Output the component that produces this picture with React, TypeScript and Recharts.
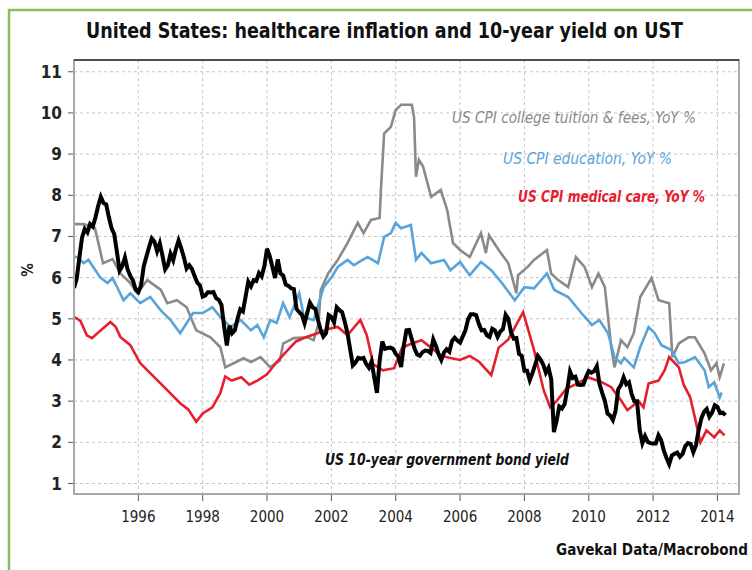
import React from "react";
import { CartesianGrid, Line, LineChart, XAxis, YAxis } from "recharts";

// shared fonts / colours
const FONT = "'Liberation Sans Narrow', 'DejaVu Sans Condensed', 'Open Sans', 'Liberation Sans', sans-serif";
const GREY = "#8a8a8a";
const BLUE = "#58a4da";
const RED = "#e5202e";
const BLACK = "#000000";

const xTicks = [1996, 1998, 2000, 2002, 2004, 2006, 2008, 2010, 2012, 2014];
const yTicks = [1, 2, 3, 4, 5, 6, 7, 8, 9, 10, 11];

// US CPI college tuition & fees, YoY %
const tuitionYears = [
  1994.0, 1994.3, 1994.5, 1994.65, 1994.8, 1994.9, 1995.2, 1995.44, 1995.75, 1995.97,
  1996.28, 1996.7, 1996.9, 1997.2, 1997.5, 1997.8, 1998.24, 1998.55, 1998.7, 1998.96,
  1999.27, 1999.5, 1999.8, 2000.1, 2000.4, 2000.5, 2000.83, 2001.26, 2001.45, 2001.6,
  2001.67, 2001.9, 2002.2, 2002.5, 2002.82, 2003.0, 2003.23, 2003.5, 2003.54, 2003.64,
  2003.85, 2004.0, 2004.17, 2004.5, 2004.57, 2004.63, 2004.72, 2004.85, 2005.1, 2005.4,
  2005.6, 2005.78, 2006.0, 2006.3, 2006.65, 2006.8, 2006.9, 2007.2, 2007.5, 2007.75,
  2007.8, 2008.1, 2008.3, 2008.7, 2008.83, 2009.05, 2009.36, 2009.6, 2009.87, 2010.1,
  2010.3, 2010.5, 2010.7, 2010.8, 2011.0, 2011.2, 2011.4, 2011.6, 2011.95, 2012.17,
  2012.5, 2012.6, 2012.8, 2013.1, 2013.3, 2013.6, 2013.8, 2013.97, 2014.07, 2014.2,
];
const tuitionValues = [
  7.3, 7.3, 7.25, 7.2, 6.7, 6.35, 6.45, 6.1, 5.87, 5.62,
  5.94, 5.7, 5.38, 5.45, 5.28, 4.72, 4.55, 4.31, 3.82, 3.92,
  4.04, 3.95, 4.07, 3.82, 3.99, 4.4, 4.53, 4.55, 4.48, 4.89,
  5.7, 6.1, 6.43, 6.84, 7.33, 7.08, 7.4, 7.45, 8.13, 9.5,
  9.66, 10.07, 10.2, 10.2, 9.9, 8.45, 8.86, 8.7, 7.96, 8.13,
  7.64, 6.84, 6.67, 6.5, 7.08, 6.6, 7.03, 6.67, 6.35, 5.62,
  6.06, 6.26, 6.43, 6.67, 6.1, 5.94, 5.77, 6.5, 6.26, 5.77,
  6.1, 5.77, 4.31, 3.82, 4.48, 4.31, 4.65, 5.53, 5.99, 5.45,
  5.38, 4.07, 4.4, 4.55, 4.55, 4.16, 3.75, 3.92, 3.58, 3.92,
];

// US CPI education, YoY %
const educationYears = [
  1994.0, 1994.1, 1994.3, 1994.45, 1994.82, 1995.04, 1995.2, 1995.54, 1995.75, 1996.06,
  1996.37, 1996.69, 1997.0, 1997.3, 1997.5, 1997.7, 1998.0, 1998.3, 1998.55, 1998.87,
  1999.18, 1999.5, 1999.7, 1999.9, 2000.1, 2000.3, 2000.5, 2000.7, 2001.0, 2001.15,
  2001.45, 2001.76, 2002.0, 2002.2, 2002.5, 2002.7, 2002.9, 2003.13, 2003.45, 2003.64,
  2003.85, 2004.0, 2004.16, 2004.47, 2004.63, 2004.8, 2005.1, 2005.5, 2005.7, 2006.0,
  2006.3, 2006.65, 2006.97, 2007.3, 2007.7, 2008.0, 2008.3, 2008.7, 2008.93, 2009.36,
  2009.77, 2010.1, 2010.33, 2010.6, 2010.8, 2011.0, 2011.1, 2011.4, 2011.6, 2011.86,
  2012.05, 2012.26, 2012.57, 2012.8, 2013.0, 2013.3, 2013.6, 2013.73, 2013.9, 2014.07,
  2014.13,
];
const educationValues = [
  6.5, 6.5, 6.35, 6.43, 6.0, 5.87, 5.99, 5.45, 5.62, 5.38,
  5.53, 5.21, 4.97, 4.65, 4.89, 5.14, 5.14, 5.28, 5.04, 4.8,
  4.97, 4.72, 4.85, 4.55, 4.97, 4.9, 5.38, 5.04, 5.62, 5.04,
  4.97, 5.77, 6.0, 6.26, 6.43, 6.3, 6.4, 6.5, 6.35, 6.99,
  7.08, 7.33, 7.2, 7.28, 6.43, 6.6, 6.35, 6.43, 6.18, 6.38,
  6.06, 6.38, 6.18, 5.87, 5.45, 5.77, 5.74, 6.1, 5.7, 5.53,
  5.14, 4.85, 4.97, 4.65, 4.07, 3.92, 4.05, 3.82, 4.31, 4.8,
  4.65, 4.36, 4.24, 3.92, 3.95, 4.07, 3.75, 3.34, 3.46, 3.09,
  3.21,
];

// US CPI medical care, YoY %
const medicalYears = [
  1994.0, 1994.2, 1994.4, 1994.56, 1994.8, 1995.13, 1995.3, 1995.44, 1995.75, 1996.06,
  1996.37, 1996.69, 1997.0, 1997.3, 1997.55, 1997.8, 1998.0, 1998.3, 1998.55, 1998.7,
  1998.9, 1999.2, 1999.45, 1999.7, 2000.0, 2000.3, 2000.6, 2000.9, 2001.2, 2001.57,
  2001.9, 2002.2, 2002.5, 2002.9, 2003.1, 2003.3, 2003.6, 2003.95, 2004.2, 2004.5,
  2004.8, 2005.1, 2005.4, 2005.7, 2006.0, 2006.3, 2006.6, 2006.97, 2007.2, 2007.5,
  2007.96, 2008.3, 2008.6, 2008.8, 2009.0, 2009.3, 2009.7, 2009.98, 2010.4, 2010.7,
  2011.0, 2011.2, 2011.55, 2011.7, 2011.86, 2012.17, 2012.36, 2012.5, 2012.8, 2012.95,
  2013.15, 2013.3, 2013.47, 2013.66, 2013.9, 2014.07, 2014.22,
];
const medicalValues = [
  5.05, 4.95, 4.6, 4.53, 4.7, 4.92, 4.8, 4.56, 4.36, 3.92,
  3.68, 3.43, 3.19, 2.95, 2.8, 2.5, 2.7, 2.85, 3.2, 3.6,
  3.5, 3.58, 3.4, 3.5, 3.65, 3.95, 4.2, 4.45, 4.55, 4.65,
  4.75, 4.8, 4.6, 4.97, 4.6, 3.9, 3.75, 3.8, 4.3, 4.4,
  4.48, 4.3, 4.1, 4.05, 4.0, 4.1, 3.95, 3.63, 4.3, 4.5,
  5.16, 4.24, 3.26, 2.85, 3.0, 3.3, 3.45, 3.58, 3.46, 3.34,
  3.02, 2.78, 3.0, 2.85, 3.43, 3.5, 3.75, 4.07, 3.82, 3.4,
  3.1, 2.6, 2.0, 2.29, 2.12, 2.29, 2.17,
];

// US 10-year government bond yield, monthly from Jan 1994
const bondStart = 1994;
const bondValues = [
  5.75, 5.97, 6.48, 6.97, 7.18, 7.1, 7.3, 7.24, 7.46, 7.74, 7.96, 7.81,
  7.78, 7.47, 7.2, 7.06, 6.63, 6.17, 6.28, 6.49, 6.2, 6.04, 5.93, 5.71,
  5.65, 5.81, 6.27, 6.51, 6.74, 6.95, 6.87, 6.64, 6.83, 6.53, 6.2, 6.3,
  6.58, 6.42, 6.69, 6.9, 6.71, 6.49, 6.22, 6.3, 6.21, 6.03, 5.88, 5.81,
  5.54, 5.57, 5.65, 5.64, 5.65, 5.5, 5.46, 5.34, 4.81, 4.35, 4.83, 4.65,
  4.72, 5.0, 5.23, 5.18, 5.54, 5.9, 5.79, 5.94, 5.92, 6.11, 6.03, 6.28,
  6.7, 6.52, 6.26, 5.99, 6.44, 6.1, 6.05, 5.83, 5.8, 5.74, 5.72, 5.24,
  5.16, 5.1, 4.89, 5.14, 5.39, 5.28, 5.24, 4.97, 4.73, 4.57, 4.65, 5.09,
  5.04, 4.91, 5.28, 5.21, 5.16, 4.93, 4.65, 4.26, 3.87, 3.94, 4.05, 4.03,
  4.05, 3.9, 3.81, 3.96, 3.57, 3.2, 3.98, 4.45, 4.27, 4.29, 4.3, 4.27,
  4.15, 4.08, 3.83, 4.35, 4.72, 4.73, 4.5, 4.28, 4.13, 4.1, 4.19, 4.23,
  4.22, 4.17, 4.5, 4.34, 4.14, 4.0, 4.18, 4.26, 4.2, 4.46, 4.54, 4.47,
  4.42, 4.57, 4.72, 4.99, 5.11, 5.11, 5.09, 4.88, 4.72, 4.73, 4.6, 4.56,
  4.76, 4.72, 4.56, 4.69, 4.75, 5.1, 5.0, 4.67, 4.52, 4.53, 4.15, 4.1,
  3.74, 3.74, 3.51, 3.68, 3.88, 4.1, 4.01, 3.89, 3.69, 3.81, 3.53, 2.25,
  2.52, 2.87, 2.82, 2.93, 3.29, 3.72, 3.56, 3.59, 3.4, 3.39, 3.4, 3.59,
  3.73, 3.69, 3.73, 3.85, 3.42, 3.2, 3.01, 2.7, 2.65, 2.54, 2.76, 3.29,
  3.39, 3.58, 3.41, 3.46, 3.17, 3.0, 3.0, 2.3, 1.98, 2.15, 2.01, 1.98,
  1.97, 1.97, 2.17, 2.05, 1.8, 1.62, 1.47, 1.68, 1.72, 1.75, 1.65, 1.72,
  1.91, 1.98, 1.96, 1.76, 1.93, 2.3, 2.58, 2.74, 2.81, 2.62, 2.72, 2.9,
  2.86, 2.71, 2.72, 2.66,
];

const pairs = (xs: number[], vs: number[]) => xs.map((x, i) => ({ x, v: vs[i] }));
const tuitionData = pairs(tuitionYears, tuitionValues);
const educationData = pairs(educationYears, educationValues);
const medicalData = pairs(medicalYears, medicalValues);
const bondData = bondValues.map((v, i) => ({ x: bondStart + i / 12, v }));

// plot box in page pixels
const PL = 74;
const PR = 739;
const PT = 60;
const PB = 494;

export default function App() {
  return (
    <div style={{ position: "absolute", left: 0, top: 0, width: 752, height: 570, background: "#fff", overflow: "hidden" }}>
      <div style={{ position: "absolute", left: 0, top: 0 }}>
        <LineChart
          width={752}
          height={570}
          margin={{ top: PT, right: 752 - PR, bottom: 46, left: 0 }}
        >
          <CartesianGrid stroke="#c4c4c4" strokeDasharray="3 3" />
          <XAxis
            dataKey="x"
            type="number"
            domain={[1994.0, 2014.67]}
            allowDataOverflow
            ticks={xTicks}
            height={30}
            tickSize={7}
            tickMargin={10}
            axisLine={false}
            tickLine={{ stroke: "#555" }}
            tick={{ fill: "#222", fontSize: 15, fontFamily: FONT }}
          />
          <YAxis
            type="number"
            domain={[0.745, 11.285]}
            allowDataOverflow
            ticks={yTicks}
            width={PL}
            tickSize={6}
            tickMargin={6}
            axisLine={false}
            tickLine={{ stroke: "#555" }}
            tick={{ fill: "#222", fontSize: 17, fontWeight: 600, fontFamily: FONT }}
          />
          <Line data={tuitionData} dataKey="v" type="linear" stroke={GREY} strokeWidth={2.6} dot={false} isAnimationActive={false} />
          <Line data={educationData} dataKey="v" type="linear" stroke={BLUE} strokeWidth={2.6} dot={false} isAnimationActive={false} />
          <Line data={medicalData} dataKey="v" type="linear" stroke={RED} strokeWidth={2.6} dot={false} isAnimationActive={false} />
          <Line data={bondData} dataKey="v" type="linear" stroke={BLACK} strokeWidth={4} dot={false} isAnimationActive={false} />
        </LineChart>
      </div>
      <svg width={752} height={570} style={{ position: "absolute", left: 0, top: 0, pointerEvents: "none" }}>
        {/* outer green frame */}
        <line x1={8} y1={10} x2={752} y2={10} stroke="#8cbd5a" strokeWidth={2.5} />
        <line x1={9} y1={9} x2={9} y2={570} stroke="#8cbd5a" strokeWidth={2.5} />
        {/* plot box */}
        <rect x={PL} y={PT} width={PR - PL} height={PB - PT} fill="none" stroke="#a8a8a8" strokeWidth={2} />
        <line x1={PL} y1={PT} x2={PR} y2={PT} stroke="#333" strokeWidth={1.5} />
        <text x={86} y={38} fontFamily={FONT} fontWeight={700} fontSize={21} fill="#111" textLength={597} lengthAdjust="spacingAndGlyphs">
          United States: healthcare inflation and 10-year yield on UST
        </text>
        <text x={33} y={270} fontFamily={FONT} fontSize={15} fontWeight={600} fill="#222" textAnchor="middle" transform="rotate(-90 33 270)">
          %
        </text>
        <text x={452} y={123} fontFamily={FONT} fontStyle="italic" fontSize={15} fill={GREY} textLength={244} lengthAdjust="spacingAndGlyphs">
          US CPI college tuition &amp; fees, YoY %
        </text>
        <text x={503} y={164} fontFamily={FONT} fontStyle="italic" fontSize={15} fill={BLUE} textLength={169} lengthAdjust="spacingAndGlyphs">
          US CPI education, YoY %
        </text>
        <text x={518} y={202} fontFamily={FONT} fontStyle="italic" fontWeight={700} fontSize={15} fill={RED} textLength={187} lengthAdjust="spacingAndGlyphs">
          US CPI medical care, YoY %
        </text>
        <text x={325} y={465} fontFamily={FONT} fontStyle="italic" fontWeight={600} fontSize={15} fill="#111" textLength={244} lengthAdjust="spacingAndGlyphs">
          US 10-year government bond yield
        </text>
        <text x={748} y={555} fontFamily={FONT} fontWeight={700} fontSize={15} fill="#111" textAnchor="end" textLength={192} lengthAdjust="spacingAndGlyphs">
          Gavekal Data/Macrobond
        </text>
      </svg>
    </div>
  );
}
